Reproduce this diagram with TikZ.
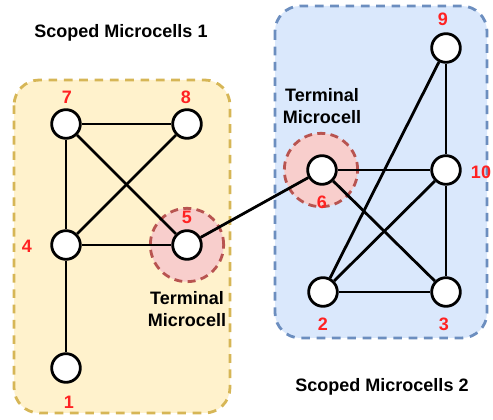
\documentclass[tikz,border=0pt]{standalone}
\usepackage{fontspec}
\setmainfont{Liberation Sans}
\definecolor{yfill}{HTML}{FFF2CC}
\definecolor{ydraw}{HTML}{D6B656}
\definecolor{bfill}{HTML}{DAE8FC}
\definecolor{bdraw}{HTML}{6C8EBF}
\definecolor{hfill}{HTML}{F8CECC}
\definecolor{hdraw}{HTML}{B85450}
\definecolor{numred}{HTML}{FF2222}
\begin{document}
\begin{tikzpicture}[x=0.75pt,y=-0.75pt,
  cell/.style={circle, draw=black, fill=white, line width=2.1pt, minimum size=21.5pt, inner sep=0pt},
  halo/.style={circle, draw=hdraw, fill=hfill, line width=2.1pt, dash pattern=on 6pt off 4pt, minimum size=55pt, inner sep=0pt},
  scopebox/.style={rounded corners=19pt, line width=2.1pt, dash pattern=on 6.5pt off 5pt},
  num/.style={text=numred, font=\fontsize{13.5}{16}\selectfont\bfseries, inner sep=0pt},
  caption/.style={font=\fontsize{13.5}{16}\selectfont\bfseries, align=center, inner sep=0pt},
  edge/.style={line width=2.1pt, draw=black}]
\useasboundingbox (0,0) rectangle (493,420);
% scope boxes
\draw[scopebox, draw=ydraw, fill=yfill] (14,80) rectangle (230,413);
\draw[scopebox, draw=bdraw, fill=bfill] (275,6) rectangle (487,338);
% halos
\node[halo] (h5) at (187,245) {};
\node[halo] (h6) at (321,170) {};
% cells
\node[cell] (n7) at (66,124) {};
\node[cell] (n8) at (187,124) {};
\node[cell] (n4) at (66,245) {};
\node[cell] (n5) at (187,245) {};
\node[cell] (n1) at (66,368) {};
\node[cell] (n6) at (322,170) {};
\node[cell] (n9) at (446,48) {};
\node[cell] (n10) at (446,170) {};
\node[cell] (n2) at (323,292) {};
\node[cell] (n3) at (446,292) {};
% edges
\draw[edge] (n7) -- (n8);
\draw[edge] (n7) -- (n4);
\draw[edge] (n7) -- (n5);
\draw[edge] (n8) -- (n4);
\draw[edge] (n4) -- (n5);
\draw[edge] (n4) -- (n1);
\draw[edge] (n5) -- (n6);
\draw[edge] (n6) -- (n10);
\draw[edge] (n6) -- (n3);
\draw[edge] (n9) -- (n10);
\draw[edge] (n9) -- (n2);
\draw[edge] (n10) -- (n2);
\draw[edge] (n10) -- (n3);
\draw[edge] (n2) -- (n3);
% number labels
\node[num] (l7) at (67,97) {7};
\node[num] (l8) at (186,97) {8};
\node[num] (l5) at (187,217) {5};
\node[num] (l4) at (27,246) {4};
\node[num] (l1) at (69,402) {1};
\node[num] (l6) at (322,202) {6};
\node[num] (l9) at (443,19) {9};
\node[num] (l10) at (481,172) {10};
\node[num] (l2) at (323,324) {2};
\node[num] (l3) at (444,324) {3};
% captions
\node[caption] (c1) at (121,33) {Scoped Microcells 1};
\node[caption] (c2) at (382,387) {Scoped Microcells 2};
\node[caption] (t5) at (187,309) {Terminal\\Microcell};
\node[caption] (t6) at (322,106) {Terminal\\Microcell};
\end{tikzpicture}
\end{document}
